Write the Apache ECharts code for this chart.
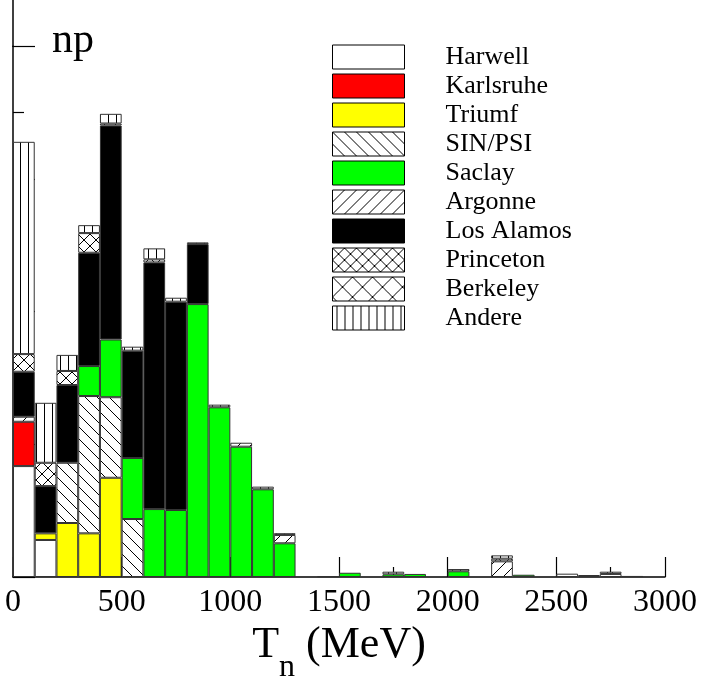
<!DOCTYPE html>
<html><head><meta charset="utf-8">
<script src="https://cdn.jsdelivr.net/npm/echarts@6/dist/echarts.min.js"></script>
<style>html,body{margin:0;padding:0;background:#fff}#c{width:710px;height:677px}</style>
</head><body><div id="c"></div>
<script>
// 100 MeV bins, 0..3000 MeV
const categories = ['0-100','100-200','200-300','300-400','400-500','500-600','600-700','700-800','800-900','900-1000',
  '1000-1100','1100-1200','1200-1300','1300-1400','1400-1500','1500-1600','1600-1700','1700-1800','1800-1900','1900-2000',
  '2000-2100','2100-2200','2200-2300','2300-2400','2400-2500','2500-2600','2600-2700','2700-2800','2800-2900','2900-3000'];
const xTicks = [0, 500, 1000, 1500, 2000, 2500, 3000];
// stacked contributions (arbitrary units), bottom to top
const harwell   = [836,279,0,0,0,0,0,0,0,0, 0,0,0,0,5,0,0,0,0,0, 0,0,0,0,0,25,15,23,8,0];
const karlsruhe = [334,0,0,0,0,0,0,0,0,0, 0,0,0,0,0,0,0,0,0,0, 0,0,0,0,0,0,0,0,0,0];
const triumf    = [0,50,407,329,748,0,0,0,0,0, 0,0,0,0,0,0,0,0,0,0, 0,0,0,0,0,0,0,0,0,0];
const sinpsi    = [0,0,454,1035,607,437,0,0,0,0, 0,0,0,0,0,0,0,0,0,0, 0,0,0,0,0,0,0,0,0,0];
const saclay    = [0,0,0,226,435,460,512,505,2057,1279, 982,661,254,0,0,32,0,20,23,0, 43,0,0,17,0,0,0,0,0,0];
const argonne   = [38,0,0,0,0,0,0,0,0,0, 30,0,63,0,0,0,0,0,0,0, 0,0,118,0,0,0,0,0,0,0];
const losalamos = [339,356,586,854,1613,809,1859,1570,452,0, 0,0,0,0,0,0,0,0,0,0, 0,0,0,0,0,0,0,0,0,0];
const princeton = [133,176,106,148,0,0,23,0,0,0, 0,0,0,0,0,0,0,0,0,0, 0,0,20,0,0,0,0,0,0,0];
const berkeley  = [0,0,0,0,15,0,0,0,0,0, 0,0,0,0,0,0,0,0,0,0, 0,0,0,0,0,0,0,17,0,0];
const andere    = [1600,452,121,60,73,30,83,30,13,20, 0,20,13,0,0,0,0,20,0,0, 17,0,25,0,0,0,0,0,0,0];

function pattern(kind, s) {
  const c = document.createElement('canvas');
  c.width = s; c.height = s;
  const g = c.getContext('2d');
  g.fillStyle = '#fff'; g.fillRect(0, 0, s, s);
  g.strokeStyle = '#000'; g.lineWidth = 1;
  g.beginPath();
  if (kind === 'back' || kind === 'cross') {
    for (const k of [-s, 0, s]) { g.moveTo(k, 0); g.lineTo(k + s, s); }
  }
  if (kind === 'fwd' || kind === 'cross') {
    for (const k of [-s, 0, s]) { g.moveTo(k, s); g.lineTo(k + s, 0); }
  }
  if (kind === 'vert') { g.moveTo(s / 2 + 0.5, 0); g.lineTo(s / 2 + 0.5, s); }
  g.stroke();
  return { image: c, repeat: 'repeat' };
}

const seriesDefs = [
  ['Harwell', harwell, '#ffffff'],
  ['Karlsruhe', karlsruhe, '#ff0000'],
  ['Triumf', triumf, '#ffff00'],
  ['SIN/PSI', sinpsi, pattern('back', 12)],
  ['Saclay', saclay, '#00ff00'],
  ['Argonne', argonne, pattern('fwd', 12)],
  ['Los Alamos', losalamos, '#000000'],
  ['Princeton', princeton, pattern('cross', 12)],
  ['Berkeley', berkeley, pattern('cross', 20)],
  ['Andere', andere, pattern('vert', 8)]
];

const FONT = 'Liberation Serif';
const chart = echarts.init(document.getElementById('c'), null, { renderer: 'canvas' });
chart.setOption({
  animation: false,
  backgroundColor: '#fff',
  grid: { left: 13, right: 45, top: 46.3, bottom: 100, containLabel: false, outerBoundsMode: 'none' },
  legend: {
    orient: 'vertical', left: 332, top: 44, padding: 0,
    itemWidth: 72, itemHeight: 24, itemGap: 3, selectedMode: false, icon: 'rect',
    data: seriesDefs.map(d => d[0]),
    itemStyle: { borderColor: '#000', borderWidth: 1 },
    textStyle: { fontFamily: FONT, fontSize: 26, color: '#000', padding: [0, 0, 0, 36], lineHeight: 24 }
  },
  xAxis: [
    { type: 'category', data: categories, show: false, gridIndex: 0 },
    {
      type: 'value', gridIndex: 0, position: 'bottom', min: xTicks[0], max: xTicks[xTicks.length - 1], interval: 500,
      axisLine: { show: true, onZero: false, lineStyle: { color: '#000', width: 1.5 } },
      axisTick: { show: true, inside: true, length: 20, lineStyle: { color: '#000', width: 1.2 } },
      minorTick: { show: true, splitNumber: 2, length: 10, lineStyle: { color: '#000', width: 1.2 } },
      splitLine: { show: false },
      axisLabel: { fontFamily: FONT, fontSize: 32, color: '#000', margin: 10, formatter: v => String(v) },
      name: '{t|T}{s|n}{t| (MeV)}', nameLocation: 'middle', nameGap: 30,
      nameTextStyle: {
        rich: {
          t: { fontFamily: FONT, fontSize: 44, lineHeight: 50, color: '#000', verticalAlign: 'top' },
          s: { fontFamily: FONT, fontSize: 32, lineHeight: 32, color: '#000', verticalAlign: 'top', padding: [28, 0, 0, 0] }
        }
      }
    }
  ],
  yAxis: {
    type: 'value', min: 0, max: 4000, interval: 1000,
    axisLine: { show: true, lineStyle: { color: '#000', width: 1.5 } },
    axisTick: { show: true, inside: true, length: 22, lineStyle: { color: '#000', width: 1.2 } },
    minorTick: { show: true, splitNumber: 2, length: 11, lineStyle: { color: '#000', width: 1.2 } },
    axisLabel: { show: false }, splitLine: { show: false }, minorSplitLine: { show: false }
  },
  graphic: [
    { type: 'line', shape: { x1: 13, y1: 0, x2: 13, y2: 47 }, style: { stroke: '#000', lineWidth: 1.5 } },
    { type: 'text', left: 52, top: 20, style: { text: 'np', font: '42px "Liberation Serif"', fill: '#000' } }
  ],
  series: seriesDefs.map(([name, arr, color]) => ({
    name, type: 'bar', stack: 'all', xAxisIndex: 0, yAxisIndex: 0,
    barWidth: '100%', barCategoryGap: 0,
    itemStyle: { color, borderColor: '#333', borderWidth: 1 },
    emphasis: { disabled: true },
    data: arr.map(v => (v > 0 ? v : '-'))
  }))
});
</script></body></html>
